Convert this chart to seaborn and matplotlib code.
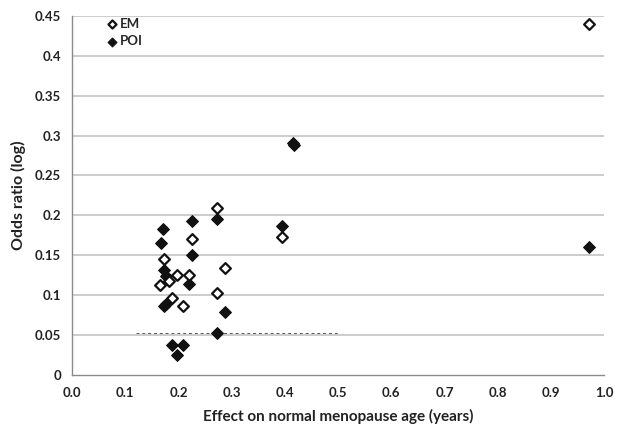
import matplotlib
matplotlib.use("Agg")
import matplotlib.pyplot as plt
import seaborn as sns
import pandas as pd
from matplotlib.ticker import FixedLocator, FixedFormatter

# EM (early menopause) - open diamonds
em_x = [0.173, 0.197, 0.183, 0.165, 0.219, 0.187, 0.208, 0.225, 0.273, 0.288, 0.273, 0.394, 0.972]
em_y = [0.145, 0.125, 0.118, 0.113, 0.125, 0.096, 0.086, 0.170, 0.209, 0.134, 0.103, 0.173, 0.440]
# POI - filled diamonds
poi_x = [0.170, 0.167, 0.173, 0.176, 0.219, 0.173, 0.176, 0.225, 0.225, 0.273, 0.288, 0.273,
         0.187, 0.208, 0.197, 0.394, 0.415, 0.417, 0.972]
poi_y = [0.183, 0.166, 0.132, 0.124, 0.114, 0.086, 0.089, 0.193, 0.150, 0.195, 0.079, 0.053,
         0.038, 0.038, 0.025, 0.187, 0.291, 0.288, 0.160]

x_ticks = [0.0, 0.1, 0.2, 0.3, 0.4, 0.5, 0.6, 0.7, 0.8, 0.9, 1.0]
x_labels = ["0.0", "0.1", "0.2", "0.3", "0.4", "0.5", "0.6", "0.7", "0.8", "0.9", "1.0"]
y_ticks = [0, 0.05, 0.1, 0.15, 0.2, 0.25, 0.3, 0.35, 0.4, 0.45]
y_labels = ["0", "0.05", "0.1", "0.15", "0.2", "0.25", "0.3", "0.35", "0.4", "0.45"]

df_em = pd.DataFrame({"x": em_x, "y": em_y, "group": "EM"})
df_poi = pd.DataFrame({"x": poi_x, "y": poi_y, "group": "POI"})

sns.set_style("white")
plt.rcParams["font.family"] = ["Lato", "DejaVu Sans"]

fig = plt.figure(figsize=(6.21, 4.30), dpi=100)
ax = fig.add_axes([0.116, 0.128, 0.857, 0.835])

for y in y_ticks[1:]:
    ax.axhline(y, color="#cccccc", lw=1.4, zorder=0)
# faint dashed scan line seen in the reference
ax.hlines(0.052, 0.12, 0.50, colors="#555555", linestyles=(0, (3, 3)), lw=0.7, zorder=1)

sns.scatterplot(data=df_poi, x="x", y="y", marker="D", s=36, color="#111111",
                edgecolor="#111111", linewidth=0.8, ax=ax, zorder=3, label="POI")
sns.scatterplot(data=df_em, x="x", y="y", marker="D", s=30, facecolor="white",
                edgecolor="#111111", linewidth=1.6, ax=ax, zorder=4, label="EM")

ax.set_xlim(0, 1.0)
ax.set_ylim(0, 0.45)
ax.xaxis.set_major_locator(FixedLocator(x_ticks))
ax.xaxis.set_major_formatter(FixedFormatter(x_labels))
ax.yaxis.set_major_locator(FixedLocator(y_ticks))
ax.yaxis.set_major_formatter(FixedFormatter(y_labels))

for s in ["top", "right"]:
    ax.spines[s].set_visible(False)
for s in ["left", "bottom"]:
    ax.spines[s].set_color("#8a8a8a")
    ax.spines[s].set_linewidth(1.0)

ax.tick_params(axis="x", direction="inout", length=5, color="#8a8a8a", labelsize=9.5, pad=6)
ax.tick_params(axis="y", direction="out", length=4, color="#8a8a8a", labelsize=9.5, pad=4)
for lab in ax.get_xticklabels() + ax.get_yticklabels():
    lab.set_fontweight("bold")
    lab.set_color("#222222")

ax.set_xlabel("Effect on normal menopause age (years)", fontsize=11, fontweight="bold",
              color="#222222", labelpad=7)
ax.set_ylabel("Odds ratio (log)", fontsize=11.5, fontweight="bold", color="#222222", labelpad=6)

h, l = ax.get_legend_handles_labels()
order = [l.index("EM"), l.index("POI")]
leg = ax.legend([h[i] for i in order], [l[i] for i in order], loc="upper left",
                bbox_to_anchor=(0.066, 0.995), frameon=False, fontsize=9.5,
                handletextpad=0.2, labelspacing=0.4, borderaxespad=0.0, borderpad=0.0,
                markerscale=0.75, handlelength=0.8)
for t in leg.get_texts():
    t.set_fontweight("bold")

fig.savefig("out.png", dpi=100, facecolor="white")
